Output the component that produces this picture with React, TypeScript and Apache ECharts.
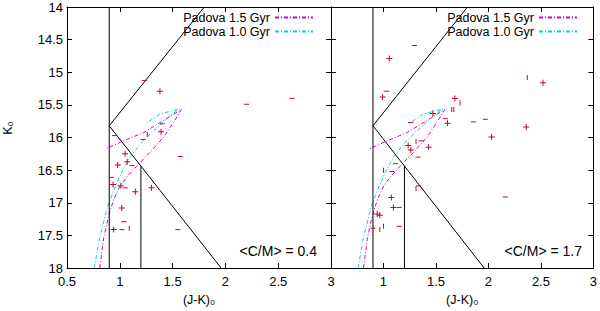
import React, { useEffect, useRef } from "react";
import * as echarts from "echarts";

const FONT = "'Liberation Sans', Arial, Helvetica, sans-serif";
const RED = "#d0002a";
const MAGENTA = "#d000d0";
const CYAN = "#00d4d4";

// axis ranges / ticks
const X_MIN = 0.5;
const X_MAX = 3;
const X_STEP = 0.5;
const Y_MIN = 14;
const Y_MAX = 18;
const Y_STEP = 0.5;

// selection boundaries (same in both panels)
const boundaryDiag = [[1.8, 14], [0.9, 15.82], [1.96, 18]];
const boundaryV1 = [[0.9, 14], [0.9, 18]];
const boundaryV2 = [[1.2, 16.44], [1.2, 18]];

// Padova isochrones (main branch bottom -> tip, then return branch)
const iso15 = [
  [0.81, 18.0], [0.847, 17.54], [0.895, 17.19], [0.942, 16.95], [1.005, 16.73],
  [1.084, 16.57], [1.17, 16.42], [1.29, 16.22], [1.416, 15.99], [1.515, 15.75],
  [1.585, 15.57], [1.23, 15.92], [1.037, 16.05], [0.87, 16.17],
];
const iso10 = [
  [0.758, 18.0], [0.808, 17.54], [0.887, 17.04], [0.957, 16.75], [1.03, 16.49],
  [1.1, 16.29], [1.22, 16.05], [1.35, 15.85], [1.48, 15.66], [1.565, 15.56],
  [1.38, 15.64], [1.24, 15.79],
];

// stars, left panel  <C/M> = 0.4
const leftPlus = [
  [1.38, 15.29], [1.39, 15.91], [1.05, 16.25], [1.07, 16.37], [0.98, 16.42],
  [0.936, 16.72], [1.01, 16.74], [1.147, 16.83], [1.3, 16.77], [1.018, 17.08],
  [0.942, 17.41],
];
const leftDash = [
  [1.232, 15.125], [2.2, 15.49], [2.63, 15.4], [1.4, 15.79], [0.95, 15.97],
  [1.22, 16.03], [1.115, 16.43], [1.573, 16.29], [0.92, 16.61], [1.05, 16.77],
  [1.037, 17.29], [1.02, 17.41], [1.55, 17.41],
];
const leftBar = [[1.26, 15.95], [1.09, 17.39]];

// stars, right panel  <C/M> = 1.7
const rightPlus = [
  [1.056, 14.79], [0.992, 15.38], [1.68, 15.4], [1.61, 15.78], [2.03, 15.99],
  [2.36, 15.84], [2.52, 15.16], [1.47, 15.63], [1.235, 16.12], [1.26, 16.19],
  [1.43, 16.15], [1.075, 16.92], [1.094, 17.07], [0.94, 17.17], [0.965, 17.19],
];
const rightDash = [
  [1.295, 14.59], [1.03, 15.29], [1.59, 15.71], [1.857, 15.76], [1.97, 15.72],
  [1.26, 15.77], [1.36, 16.05], [1.33, 16.3], [1.08, 16.52], [1.115, 16.4],
  [1.335, 16.74], [1.15, 17.07], [0.9, 17.39], [1.15, 17.36], [2.16, 16.91],
];
const rightBar = [
  [1.73, 15.47], [1.65, 15.57], [1.67, 15.57], [1.31, 16.06], [1.0, 16.5],
  [1.31, 16.78], [0.965, 17.41], [1.0, 17.36], [2.37, 15.08],
];

const legendNames = ["Padova 1.5 Gyr", "Padova 1.0 Gyr"];
const ratioLabels = ["<C/M> = 0.4", "<C/M> = 1.7"];
const xName = "(J-K)\u2080";
const yName = "K\u2080";

const PLUS = "path://M0,2.5H6V3.5H0Z M2.5,0H3.5V6H2.5Z";

const axisLine = { show: true, onZero: false, lineStyle: { color: "#000", width: 1 } };
const axisTick = { show: true, inside: true, length: 5, lineStyle: { color: "#000", width: 1 } };
const labelStyle = { color: "#000", fontSize: 13, fontFamily: FONT };

function xAxes(grid: number, hideFirst: boolean) {
  const base = {
    type: "value", gridIndex: grid, min: X_MIN, max: X_MAX, interval: X_STEP,
    axisLine, axisTick, splitLine: { show: false },
  };
  return [
    {
      ...base, position: "bottom",
      axisLabel: {
        ...labelStyle, margin: 7, showMinLabel: true, showMaxLabel: true,
        formatter: (v: number) => (hideFirst && v === X_MIN ? "" : String(v)),
      },
      name: xName, nameLocation: "middle", nameGap: 17,
      nameTextStyle: { color: "#000", fontSize: 12.5, fontFamily: FONT },
    },
    { ...base, position: "top", axisLabel: { show: false } },
  ];
}

function yAxes(grid: number, showLabels: boolean) {
  const base = {
    type: "value", gridIndex: grid, min: Y_MIN, max: Y_MAX, interval: Y_STEP, inverse: true,
    axisLine, axisTick, splitLine: { show: false },
  };
  return [
    { ...base, position: "left", axisLabel: { ...labelStyle, show: showLabels, margin: 4 } },
    { ...base, position: "right", axisLabel: { show: false } },
  ];
}

function panelSeries(idx: number, plus: number[][], dash: number[][], bar: number[][]) {
  const ax = { xAxisIndex: idx * 2, yAxisIndex: idx * 2 };
  const black = (data: number[][]) => ({
    type: "line", ...ax, data, symbol: "none", silent: true,
    lineStyle: { color: "#000", width: 1 }, z: 3,
  });
  const iso = (name: string, data: number[][], color: string) => ({
    type: "line", name, ...ax, data, symbol: "none", silent: true,
    lineStyle: { color, width: 1, type: [4, 2, 1, 2] }, itemStyle: { color }, z: 2,
  });
  const pts = (data: number[][], symbol: string, size: number | number[]) => ({
    type: "scatter", ...ax, data, symbol, symbolSize: size, silent: true,
    itemStyle: { color: RED, opacity: 1 }, z: 4,
  });
  return [
    black(boundaryDiag), black(boundaryV1), black(boundaryV2),
    iso(legendNames[0], iso15, MAGENTA), iso(legendNames[1], iso10, CYAN),
    pts(plus, PLUS, 6), pts(dash, "rect", [5, 1]), pts(bar, "rect", [1, 5]),
  ];
}

function legend(right: number) {
  return {
    data: legendNames, orient: "vertical", right, top: 11, align: "right",
    itemWidth: 38, itemHeight: 8, itemGap: 1, selectedMode: false, padding: 0,
    itemStyle: { opacity: 0 },
    textStyle: { color: "#000", fontSize: 12.5, fontFamily: FONT, lineHeight: 12 },
  };
}

export default function App() {
  const ref = useRef<HTMLDivElement>(null);
  useEffect(() => {
    document.body.style.margin = "0";
    const chart = echarts.init(ref.current!, null, { renderer: "svg" });
    chart.setOption({
      animation: false,
      backgroundColor: "#fff",
      grid: [
        { left: 67, top: 7, width: 264, height: 263 },
        { left: 331, top: 7, width: 263, height: 263 },
      ],
      xAxis: [...xAxes(0, false), ...xAxes(1, true)],
      yAxis: [...yAxes(0, true), ...yAxes(1, false)],
      legend: [legend(286), legend(22)],
      series: [
        ...panelSeries(0, leftPlus, leftDash, leftBar),
        ...panelSeries(1, rightPlus, rightDash, rightBar),
      ],
      graphic: [
        {
          type: "text", x: 317, y: 251, silent: true,
          style: { text: ratioLabels[0], align: "right", verticalAlign: "middle", fill: "#000", font: `14px ${FONT}` },
        },
        {
          type: "text", x: 582, y: 251, silent: true,
          style: { text: ratioLabels[1], align: "right", verticalAlign: "middle", fill: "#000", font: `14px ${FONT}` },
        },
        {
          type: "text", x: 8, y: 128, rotation: Math.PI / 2, silent: true,
          style: { text: yName, align: "center", verticalAlign: "middle", fill: "#000", font: `12.5px ${FONT}` },
        },
      ],
    });
    return () => chart.dispose();
  }, []);
  return <div ref={ref} style={{ width: 600, height: 311 }} />;
}
